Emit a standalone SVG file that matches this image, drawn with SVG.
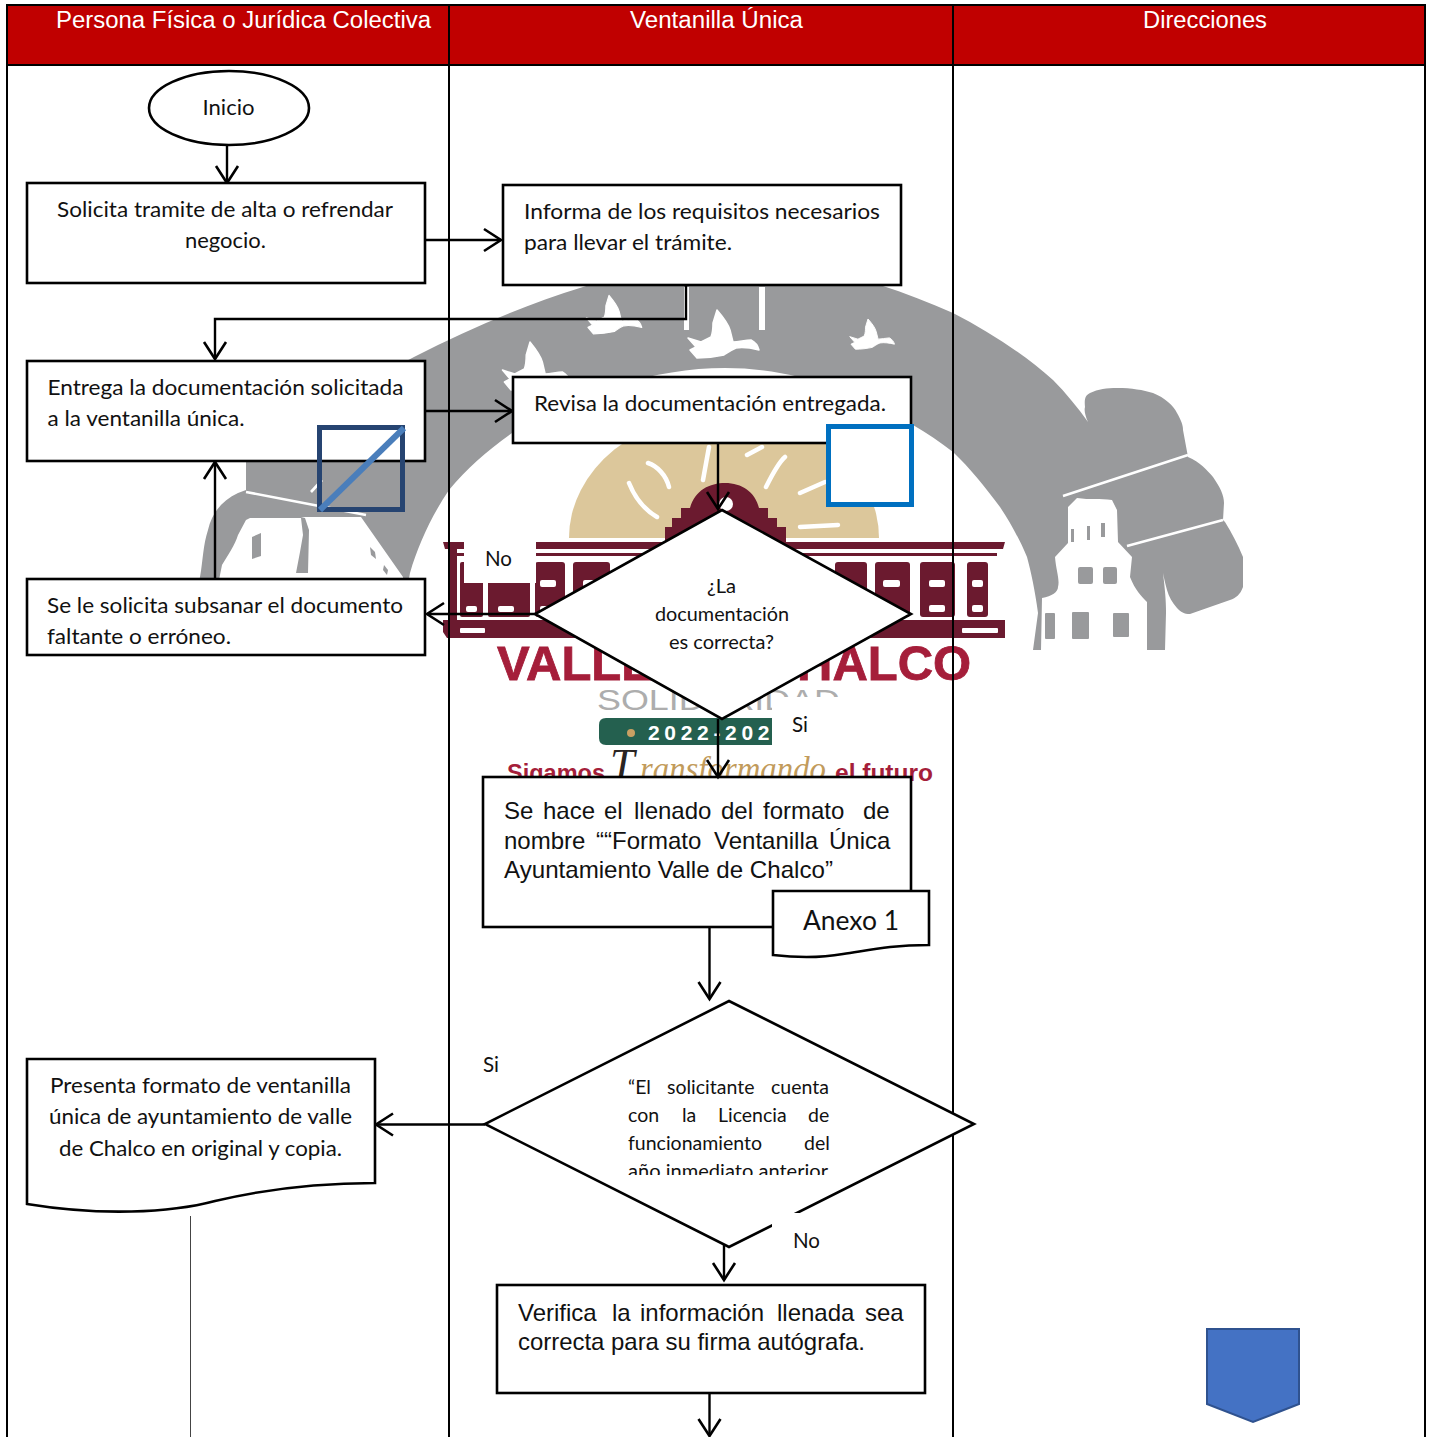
<svg xmlns="http://www.w3.org/2000/svg" width="1431" height="1437" viewBox="0 0 1431 1437">
<style>
.n{fill:#fff;stroke:#000;stroke-width:2.6}
.c{fill:none;stroke:#000;stroke-width:2.4}
.t{font-family:Lato,"Noto Sans",sans-serif;font-size:22px;fill:#111}
.s{font-family:Lato,"Noto Sans",sans-serif;font-size:19.500px;fill:#111}
.a{font-family:"Liberation Sans",Arial,sans-serif;font-size:24px;fill:#111}
.h{font-family:"Liberation Sans",Arial,sans-serif;font-size:23.500px;fill:#fff}
.g{fill:#999a9c}
.m{fill:#6b1a2f}
.w{fill:#fff}
.r{fill:#a51e3a;font-family:"Liberation Sans",Arial,sans-serif;font-weight:bold}
.ray{stroke:#fff;stroke-width:4.500;stroke-linecap:round;fill:none}
</style>
<defs>
<marker id="o" markerUnits="userSpaceOnUse" markerWidth="24" markerHeight="28" refX="18" refY="12" orient="auto" overflow="visible"><path d="M1,1L18,12L1,23" fill="none" stroke="#000" stroke-width="2.600"/></marker>
<path id="dove" stroke="#fff" stroke-width="1.500" stroke-linejoin="round" d="M0,-27C6,-20 11,-14 13,-7L16,5C22,5 28,3 34,3C38,5 41,9 42,13C34,11 26,10 19,11C14,13 10,16 7,18C-2,20-11,21-20,21L-27,13L-21,10L-29,1L-16,5L-6,0C-4,-5-4,-10-4,-14Z"/>
<clipPath id="cl"><rect x="620" y="1160" width="220" height="15"/></clipPath>
</defs>
<rect width="1431" height="1437" fill="#fff"/>
<g id="watermark">
<path class="g" d="M1033,650L1038,613C1035,590 1031,572 1027,557C1020,540 1010,522 1000,507C985,487 970,468 953,452C940,442 927,433 913,425C850,388 790,368 725,368C655,368 580,392 512,433C488,450 467,468 449,490C432,515 418,545 410,573L405,600H195L200,577C203,560 203,545 208,530C212,512 223,500 238,493L246,490V462C300,420 360,385 414,357C470,328 525,305 583,287C630,272 680,262 725,262C780,262 830,270 880,285C905,293 930,303 953,313C990,332 1025,355 1053,380C1066,393 1078,408 1088,422C1085,415 1084,410 1085,407C1084,398 1086,395 1090,393C1098,389 1107,388 1117,388C1132,388 1143,390 1153,393C1165,398 1173,405 1177,413C1181,420 1183,425 1183,430L1188,457C1200,462 1207,470 1213,477C1220,487 1224,495 1224,503L1223,520L1225,522C1232,533 1238,545 1243,557L1243,587C1240,595 1236,598 1230,600L1190,614C1184,614 1181,612 1177,608C1172,602 1169,597 1167,590C1165,583 1164,578 1163,573C1165,590 1166,600 1166,613L1165,650Z"/>
<path d="M1063,496L1188,455M1127,546L1223,520M246,492L366,515M311,492L322,480" stroke="#fff" stroke-width="2.600" fill="none"/>
<path class="w" d="M1041,650L1042,598C1052,596 1058,592 1058,587C1060,580 1056,570 1055,557L1068,543V507L1077,498C1090,500 1100,498 1112,500L1117,510L1118,542L1132,557L1130,577C1135,590 1142,597 1147,602V650Z"/>
<g class="g">
<rect x="1071" y="529" width="3" height="13"/><rect x="1087" y="526" width="3" height="14"/><rect x="1101" y="523" width="4" height="14"/>
<rect x="1078" y="567" width="15" height="17" rx="2"/><rect x="1103" y="567" width="14" height="17" rx="2"/>
<rect x="1045" y="613" width="10" height="26" rx="1"/><rect x="1072" y="612" width="17" height="27" rx="1"/><rect x="1113" y="613" width="16" height="24" rx="1"/>
</g>
<path class="w" d="M246,520L250,518H301L305,517H361L403,577V600H215L222,565C228,555 235,545 238,535Z"/>
<g class="g"><path d="M252,537L261,533V556L252,559Z"/><path d="M301,518H305L309,530L308,573H296L300,552L303,535Z"/><path d="M370,547L375,552L376,559L371,555Z"/><path d="M384,565L388,570L387,575L383,570Z"/></g>
<path class="w" d="M684,287H689V330H684ZM759,287H765V330H759Z"/>
<use href="#dove" class="w" transform="translate(717,337)"/>
<use href="#dove" class="w" transform="translate(609,317) scale(.78,.8)"/>
<use href="#dove" class="w" transform="translate(530,369) scale(.95,1)"/>
<use href="#dove" class="w" transform="translate(868,336) scale(.63)"/>
<ellipse cx="724" cy="538" rx="155" ry="125" fill="#dcc79b"/>
<rect x="560" y="538" width="330" height="130" fill="#fff"/>
<path class="ray" d="M629,483C635,498 645,510 657,517M648,463C657,466 666,475 669,487M709,447L703,480M766,487C772,475 778,463 785,457M747,455L762,447M800,493L825,482M800,527L838,525"/>
<path class="m" d="M665,542V527H672V518H681V508H690C695,490 710,483 725,483C742,483 755,492 759,508H768V518H777V527H786V542Z"/>
<circle cx="726" cy="504" r="7" fill="#fff"/>
<path class="m" d="M443,542H1005L1003,549H445Z"/>
<rect x="449" y="553" width="548" height="3" class="m"/>
<path class="m" d="M449,548H457V620H1000L1005,620V638H447L443,632V620H449Z"/>
<g class="m">
<rect x="460" y="562" width="23" height="55" rx="2"/><rect x="488" y="562" width="42" height="55" rx="2"/><rect x="535" y="562" width="30" height="55" rx="3"/><rect x="573" y="562" width="37" height="55" rx="3"/>
<rect x="835" y="562" width="32" height="55" rx="3"/><rect x="875" y="562" width="35" height="55" rx="3"/><rect x="920" y="562" width="35" height="55" rx="3"/><rect x="967" y="562" width="21" height="55" rx="3"/>
</g>
<g class="w">
<rect x="466" y="606" width="11" height="6" rx="2"/><rect x="498" y="606" width="16" height="6" rx="2"/><rect x="540" y="580" width="16" height="7" rx="2"/><rect x="540" y="606" width="16" height="6" rx="2"/><rect x="583" y="580" width="14" height="7" rx="2"/>
<rect x="883" y="580" width="17" height="7" rx="2"/><rect x="929" y="580" width="16" height="7" rx="2"/><rect x="929" y="605" width="16" height="7" rx="2"/><rect x="972" y="580" width="11" height="7" rx="2"/><rect x="972" y="605" width="11" height="7" rx="2"/>
<rect x="460" y="628" width="25" height="5" rx="1"/><rect x="962" y="628" width="36" height="5" rx="1"/>
</g>
<text class="r" x="497" y="680" font-size="49" stroke="#a51e3a" stroke-width=".8">VALLE</text>
<text class="r" x="797" y="680" font-size="49" stroke="#a51e3a" stroke-width=".8">HALCO</text>
<text x="597" y="710" font-family="'Liberation Sans',Arial,sans-serif" font-size="29" fill="#adadad" textLength="243" lengthAdjust="spacingAndGlyphs">SOLIDARIDAD</text>
<path d="M606,718H772V745H606Q599,745 599,738V725Q599,718 606,718Z" fill="#24604f"/>
<circle cx="631" cy="733" r="4" fill="#c9a063"/>
<text x="648" y="740" font-family="'Liberation Sans',Arial,sans-serif" font-weight="bold" font-size="21" fill="#fff" letter-spacing="2.500" textLength="124">2022-202</text>
<text class="r" x="507" y="781" font-size="23" textLength="98" lengthAdjust="spacingAndGlyphs">Sigamos</text>
<text class="r" x="835" y="781" font-size="23" textLength="98" lengthAdjust="spacingAndGlyphs">el futuro</text>
<text x="610" y="779" font-family="'Liberation Serif',serif" font-style="italic" font-size="44" fill="#2a2422">T</text>
<text x="640" y="780" font-family="'Liberation Serif',serif" font-style="italic" font-size="34" fill="#c29b5b" textLength="186" lengthAdjust="spacingAndGlyphs">ransformando</text>
<rect x="772" y="697" width="70" height="50" fill="#fff"/>
</g>
<g id="lanes">
<rect x="7" y="5" width="1418" height="60" fill="#c00000" stroke="#000" stroke-width="2"/>
<path d="M7,5V1437M449,5V1437M953,5V1437M1425,5V1437" stroke="#000" stroke-width="2" fill="none"/>
<text class="h" x="56" y="28" textLength="375" lengthAdjust="spacingAndGlyphs">Persona Física o Jurídica Colectiva</text>
<text class="h" x="630" y="28" textLength="173" lengthAdjust="spacingAndGlyphs">Ventanilla Única</text>
<text class="h" x="1143" y="28" textLength="124" lengthAdjust="spacingAndGlyphs">Direcciones</text>
</g>
<g id="connectors">
<path class="c" marker-end="url(#o)" d="M227,145V183"/>
<path class="c" marker-end="url(#o)" d="M425,240H501"/>
<path class="c" marker-end="url(#o)" d="M686,285V319H215V359"/>
<path class="c" marker-end="url(#o)" d="M425,411H512"/>
<path class="c" marker-end="url(#o)" d="M215,579V462"/>
<path class="c" marker-end="url(#o)" d="M535,614H427"/>
<path class="c" marker-end="url(#o)" d="M709.500,927V999"/>
<path class="c" marker-end="url(#o)" d="M485,1124.500H376"/>
<path class="c" marker-end="url(#o)" d="M709.500,1393V1436"/>
<path d="M190.500,1216V1437" stroke="#444" stroke-width="1" fill="none"/>
</g>
<g id="inicio"><ellipse class="n" cx="229" cy="108" rx="80" ry="37"/><text class="t" x="202.500" y="115" textLength="52" lengthAdjust="spacingAndGlyphs">Inicio</text></g>
<g id="solicita"><rect class="n" x="27" y="183" width="398" height="100"/><text class="t" x="57" y="217" textLength="336" lengthAdjust="spacingAndGlyphs">Solicita tramite de alta o refrendar</text><text class="t" x="185" y="248" textLength="81" lengthAdjust="spacingAndGlyphs">negocio.</text></g>
<g id="informa"><rect class="n" x="503" y="185" width="398" height="100"/><text class="t" x="524" y="219" textLength="356" lengthAdjust="spacingAndGlyphs">Informa de los requisitos necesarios</text><text class="t" x="524" y="250" textLength="208" lengthAdjust="spacingAndGlyphs">para llevar el trámite.</text></g>
<g id="entrega"><rect class="n" x="27" y="361" width="398" height="100"/><text class="t" x="47.500" y="395" textLength="356" lengthAdjust="spacingAndGlyphs">Entrega la documentación solicitada</text><text class="t" x="47.500" y="426" textLength="197" lengthAdjust="spacingAndGlyphs">a la ventanilla única.</text></g>
<g id="revisa"><rect class="n" x="513" y="377" width="398" height="66"/><text class="t" x="534" y="411" textLength="352" lengthAdjust="spacingAndGlyphs">Revisa la documentación entregada.</text></g>
<g id="subsanar"><rect class="n" x="27" y="579" width="398" height="76"/><text class="t" x="47" y="613" textLength="356" lengthAdjust="spacingAndGlyphs">Se le solicita subsanar el documento</text><text class="t" x="47" y="644" textLength="184" lengthAdjust="spacingAndGlyphs">faltante o erróneo.</text></g>
<g id="marca-azul-oscuro"><rect x="319.500" y="427.500" width="83" height="82" fill="none" stroke="#264471" stroke-width="5"/><path d="M320,510L404,428" stroke="#4a7ebb" stroke-width="6"/></g>
<g id="marca-azul"><rect x="828.500" y="426.500" width="83" height="78" fill="#fff" stroke="#0070c0" stroke-width="5"/></g>
<g id="decision1"><path class="n" d="M722,510L911,614L722,719L535,614Z"/>
<text class="s" x="707" y="593" textLength="29" lengthAdjust="spacingAndGlyphs">¿La</text><text class="s" x="655" y="621" textLength="134" lengthAdjust="spacingAndGlyphs">documentación</text><text class="s" x="669" y="649" textLength="105" lengthAdjust="spacingAndGlyphs">es correcta?</text></g>
<path class="c" marker-end="url(#o)" d="M718,443V509"/>
<g id="llenado"><rect class="n" x="483" y="777" width="428" height="150"/>
<text class="a"><tspan x="504" y="819">Se</tspan><tspan x="543" y="819">hace</tspan><tspan x="604" y="819">el</tspan><tspan x="634" y="819">llenado</tspan><tspan x="721" y="819">del</tspan><tspan x="763" y="819">formato</tspan><tspan x="863" y="819">de</tspan></text>
<text class="a"><tspan x="504" y="849">nombre</tspan><tspan x="596" y="849">““Formato</tspan><tspan x="714" y="849">Ventanilla</tspan><tspan x="829" y="849">Única</tspan></text>
<text class="a" x="504" y="878" textLength="329" lengthAdjust="spacingAndGlyphs">Ayuntamiento Valle de Chalco”</text></g>
<path class="c" marker-end="url(#o)" d="M718,719V777"/>
<g id="anexo"><path class="n" d="M773,891H929V945C890,945 870,950 843,954C815,959 790,957 773,955Z"/><text x="803" y="930" font-family="Lato,'Noto Sans',sans-serif" font-size="27" fill="#111" textLength="96" lengthAdjust="spacingAndGlyphs">Anexo 1</text></g>
<g id="presenta"><path class="n" d="M27,1059H375V1183C320,1183 270,1188 215,1201C170,1213 100,1216 27,1204Z"/>
<text class="t" x="50" y="1093" textLength="301" lengthAdjust="spacingAndGlyphs">Presenta formato de ventanilla</text><text class="t" x="49" y="1124" textLength="303" lengthAdjust="spacingAndGlyphs">única de ayuntamiento de valle</text><text class="t" x="59" y="1156" textLength="283" lengthAdjust="spacingAndGlyphs">de Chalco en original y copia.</text></g>
<g id="decision2"><path class="n" d="M729,1001L974,1124L729,1247L485,1124Z"/>
<text class="s"><tspan x="628" y="1094">“El</tspan><tspan x="667" y="1094">solicitante</tspan><tspan x="771" y="1094">cuenta</tspan></text>
<text class="s"><tspan x="628" y="1122">con</tspan><tspan x="682" y="1122">la</tspan><tspan x="718" y="1122">Licencia</tspan><tspan x="808" y="1122">de</tspan></text>
<text class="s"><tspan x="628" y="1150">funcionamiento</tspan><tspan x="804" y="1150">del</tspan></text>
<text class="s" x="628" y="1178" clip-path="url(#cl)" textLength="200" lengthAdjust="spacingAndGlyphs">año inmediato anterior</text></g>
<path class="c" marker-end="url(#o)" d="M724,1245V1280"/>
<g id="verifica"><rect class="n" x="497" y="1285" width="428" height="108"/>
<text class="a"><tspan x="518" y="1321">Verifica</tspan><tspan x="612" y="1321">la</tspan><tspan x="640" y="1321">información</tspan><tspan x="777" y="1321">llenada</tspan><tspan x="865" y="1321">sea</tspan></text>
<text class="a" x="518" y="1350" textLength="347" lengthAdjust="spacingAndGlyphs">correcta para su firma autógrafa.</text></g>
<g id="etiquetas">
<rect x="464" y="542" width="72" height="41" fill="#fff"/>
<text class="t" x="485" y="566" textLength="27" lengthAdjust="spacingAndGlyphs">No</text>
<text class="t" x="792" y="732" textLength="16" lengthAdjust="spacingAndGlyphs">Si</text>
<text class="t" x="483" y="1072" textLength="16" lengthAdjust="spacingAndGlyphs">Si</text>
<rect x="772" y="1213" width="68" height="46" fill="#fff"/>
<text class="t" x="793" y="1248" textLength="27" lengthAdjust="spacingAndGlyphs">No</text>
</g>
<g id="pentagono"><path d="M1207,1329H1299V1404L1253,1422L1207,1404Z" fill="#4472c4" stroke="#2f528f" stroke-width="2"/></g>
</svg>
